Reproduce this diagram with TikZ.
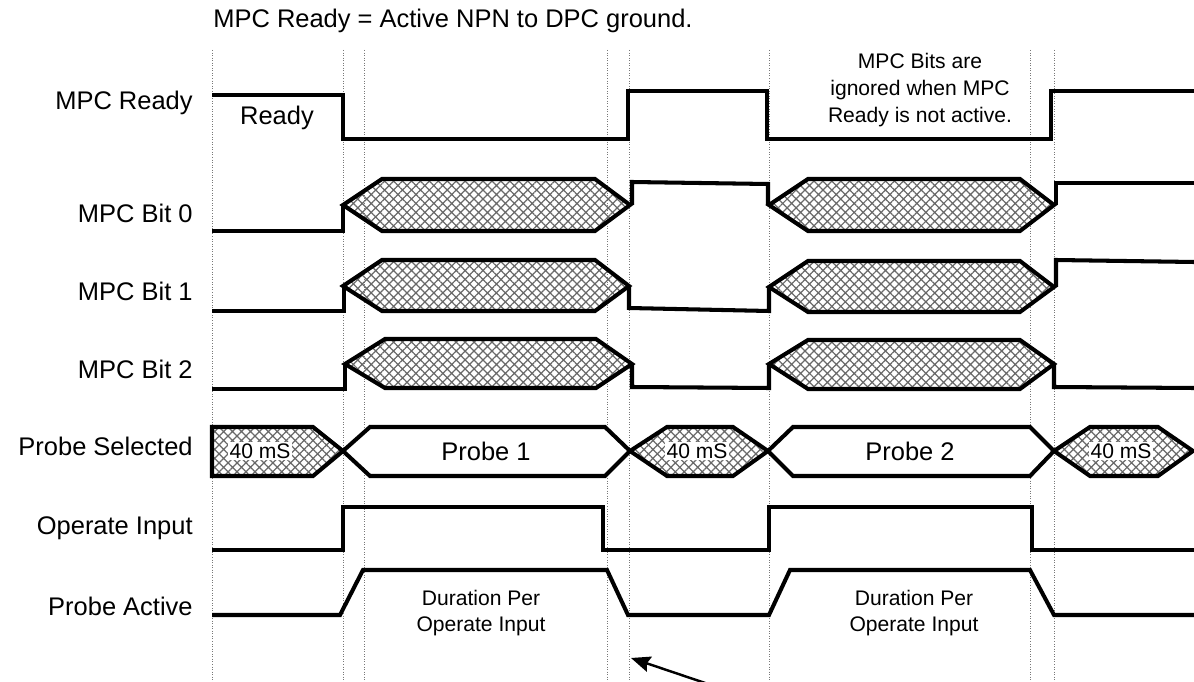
\documentclass[tikz,border=0pt]{standalone}
\usepackage{fontspec}
\setmainfont{Liberation Sans}
\usetikzlibrary{arrows.meta, patterns.meta}
\definecolor{guideGray}{RGB}{120,120,120}
\definecolor{hatchGray}{RGB}{105,105,105}

\begin{document}
\begin{tikzpicture}[
    x=0.02cm, y=-0.02cm,
    wave/.style={line width=2.3pt, line join=miter, line cap=butt},
    bus/.style={wave, pattern={Hatch[angle=45, distance=3.6pt, line width=0.7pt]},
                pattern color=hatchGray},
    openbus/.style={wave, fill=white},
    guide/.style={densely dotted, guideGray, line width=0.45pt},
    sig/.style={font=\fontsize{14.5}{17}\selectfont, anchor=base east, inner sep=0pt},
    note/.style={font=\fontsize{12}{15.3}\selectfont, align=center, inner sep=1pt},
  ]
    \useasboundingbox (0,0) rectangle (1194,682);

    % Title
    \node[font=\fontsize{14.5}{17}\selectfont, anchor=base west, inner sep=0pt]
         (title) at (213,28) {MPC Ready = Active NPN to DPC ground.};

    % Guide lines
    \draw[guide] (212,50) -- (212,682);
    \draw[guide] (343,50) -- (343,682);
    \draw[guide] (364,50) -- (364,682);
    \draw[guide] (607,50) -- (607,682);
    \draw[guide] (629,50) -- (629,682);
    \draw[guide] (769,50) -- (769,682);
    \draw[guide] (1030,50) -- (1030,682);
    \draw[guide] (1054,50) -- (1054,682);

    % Signal names
    \node[sig] (lblReady)  at (193,110) {MPC Ready};
    \node[sig] (lblBit0)   at (193,223) {MPC Bit 0};
    \node[sig] (lblBit1)   at (193,301) {MPC Bit 1};
    \node[sig] (lblBit2)   at (193,378) {MPC Bit 2};
    \node[sig] (lblProbe)  at (193,455) {Probe Selected};
    \node[sig] (lblOper)   at (193,534) {Operate Input};
    \node[sig] (lblActive) at (193,615) {Probe Active};

    % MPC Ready
    \draw[wave] (212,95) -- (343,95) -- (343,139) -- (628,139) -- (628,91)
          -- (767,91) -- (767,139) -- (1051,139) -- (1051,91) -- (1194,91);
    \node[font=\fontsize{14.5}{17}\selectfont] (readyTxt) at (277,118) {Ready};
    \node[note] (ignoreTxt) at (920,90)
         {MPC Bits are\\ignored when MPC\\Ready is not active.};

    % MPC Bit 0
    \draw[wave] (212,231) -- (343,231) -- (343,205);
    \draw[bus] (343,205) -- (382,179) -- (595,179) -- (630,205)
          -- (595,231) -- (382,231) -- cycle;
    \draw[wave] (632,205) -- (632,182) -- (768,184) -- (768,205);
    \draw[bus] (769,205) -- (808,179) -- (1020,179) -- (1054,205)
          -- (1020,231) -- (808,231) -- cycle;
    \draw[wave] (1056,205) -- (1056,183) -- (1194,183);

    % MPC Bit 1
    \draw[wave] (212,311) -- (344,311) -- (344,286);
    \draw[bus] (343,286) -- (382,260) -- (595,260) -- (629,286)
          -- (595,311) -- (382,311) -- cycle;
    \draw[wave] (629,286) -- (629,308) -- (769,311) -- (769,286);
    \draw[bus] (769,287) -- (808,261) -- (1020,261) -- (1054,287)
          -- (1020,312) -- (808,312) -- cycle;
    \draw[wave] (1056,287) -- (1056,260) -- (1194,262);

    % MPC Bit 2
    \draw[wave] (212,389) -- (345,389) -- (345,364);
    \draw[bus] (345,364) -- (385,339) -- (596,339) -- (632,364)
          -- (596,388) -- (385,388) -- cycle;
    \draw[wave] (632,364) -- (632,387) -- (769,388) -- (769,364);
    \draw[bus] (769,364) -- (808,340) -- (1020,340) -- (1054,364)
          -- (1020,389) -- (808,389) -- cycle;
    \draw[wave] (1054,364) -- (1054,387) -- (1194,388);

    % Probe Selected
    \draw[bus] (212,427) -- (313,427) -- (343,451) -- (313,476)
          -- (212,476) -- cycle;
    \draw[openbus] (343,451) -- (370,427) -- (605,427) -- (630,451)
          -- (605,476) -- (370,476) -- cycle;
    \draw[bus] (630,451) -- (667,427) -- (733,427) -- (768,451)
          -- (733,476) -- (667,476) -- cycle;
    \draw[openbus] (768,451) -- (793,427) -- (1030,427) -- (1054,451)
          -- (1030,476) -- (793,476) -- cycle;
    \draw[bus] (1054,451) -- (1090,427) -- (1158,427) -- (1193,451)
          -- (1158,476) -- (1090,476) -- cycle;
    \node[note, fill=white] (wait1) at (260,451) {40 mS};
    \node[note, fill=white] (wait2) at (697,451) {40 mS};
    \node[note, fill=white] (wait3) at (1121,451) {40 mS};
    \node[font=\fontsize{14.5}{17}\selectfont] (probe1) at (486,451) {Probe 1};
    \node[font=\fontsize{14.5}{17}\selectfont] (probe2) at (910,451) {Probe 2};

    % Operate Input
    \draw[wave] (212,550) -- (343,550) -- (343,507) -- (603,507) -- (603,550)
          -- (769,550) -- (769,507) -- (1032,507) -- (1032,550) -- (1194,550);

    % Probe Active
    \draw[wave] (212,615) -- (340,615) -- (363,570) -- (607,570) -- (628,615)
          -- (769,615) -- (790,570) -- (1030,570) -- (1054,615) -- (1194,615);
    \node[note] (dur1) at (481,613) {Duration Per\\Operate Input};
    \node[note] (dur2) at (914,613) {Duration Per\\Operate Input};

    % Pointer
    \coordinate (arrowTail) at (714,686);
    \coordinate (arrowTip) at (631,658);
    \draw[-{Stealth[length=11pt, width=9pt, inset=1.5pt]}, line width=1.4pt]
         (arrowTail) -- (arrowTip);
  \end{tikzpicture}
\end{document}
